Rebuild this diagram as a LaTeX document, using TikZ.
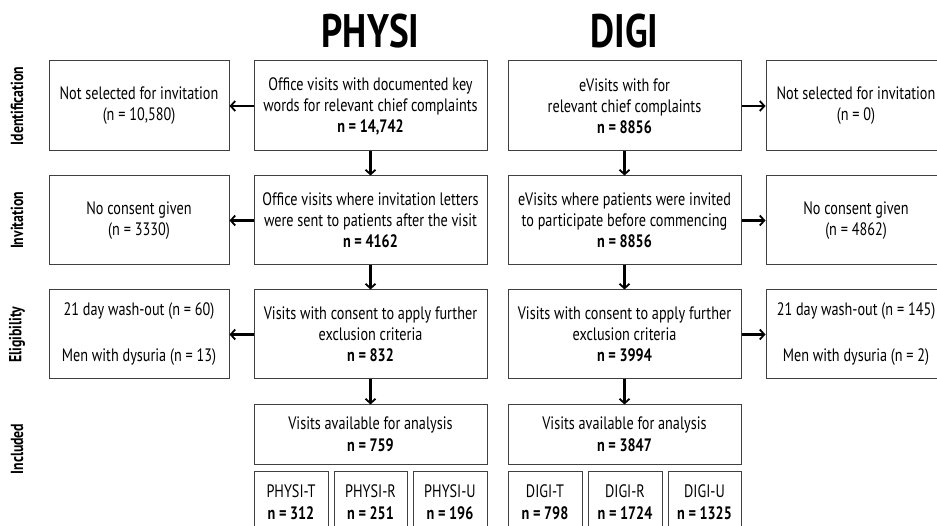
\documentclass[tikz,border=0pt]{standalone}
\usepackage{fontspec}
\setmainfont[FakeStretch=0.79]{PT Sans}
\usetikzlibrary{arrows.meta}
\tikzset{
  box/.style={draw=black!75, line width=1pt, rectangle, inner sep=0pt, align=center,
    font=\fontsize{18}{21}\selectfont},
  conn/.style={line width=2.2pt, -{Straight Barb[length=4.5pt,width=10pt,line width=1.8pt]}},
  ttl/.style={font=\fontsize{47}{47}\selectfont\bfseries},
  side/.style={rotate=90, font=\fontsize{17.5}{17.5}\selectfont\bfseries}
}
\begin{document}
\begin{tikzpicture}[x=1pt,y=-1pt]
\useasboundingbox (0,0) rectangle (937,526);
% titles
\node[ttl] (tp) at (370.5,31) {PHYSI};
\node[ttl] (td) at (624.5,31) {DIGI};
% side labels
\node[side] (s1) at (17,106) {Identification};
\node[side] (s2) at (17,220.5) {Invitation};
\node[side] (s3) at (17,334.5) {Eligibility};
\node[side] (s4) at (17,449) {Included};
% row 1
\node[box, minimum width=180pt, minimum height=90pt] (l1) at (139,106) {Not selected for invitation\\(n = 10,580)};
\node[box, minimum width=233pt, minimum height=90pt] (p1) at (370.5,106) {Office visits with documented key\\words for relevant chief complaints\\\textbf{n = 14,742}};
\node[box, minimum width=233pt, minimum height=90pt] (d1) at (624.5,106) {eVisits with for\\relevant chief complaints\\\textbf{n = 8856}};
\node[box, minimum width=180pt, minimum height=90pt] (r1) at (856,106) {Not selected for invitation\\(n = 0)};
% row 2
\node[box, minimum width=180pt, minimum height=89pt] (l2) at (139,220.5) {No consent given\\(n = 3330)};
\node[box, minimum width=233pt, minimum height=89pt] (p2) at (370.5,220.5) {Office visits where invitation letters\\were sent to patients after the visit\\\textbf{n = 4162}};
\node[box, minimum width=233pt, minimum height=89pt] (d2) at (624.5,220.5) {eVisits where patients were invited\\to participate before commencing\\\textbf{n = 8856}};
\node[box, minimum width=180pt, minimum height=89pt] (r2) at (856,220.5) {No consent given\\(n = 4862)};
% row 3
\node[box, minimum width=180pt, minimum height=89pt] (l3) at (139,334.5) {21 day wash-out (n = 60)\\[25pt]Men with dysuria (n = 13)};
\node[box, minimum width=233pt, minimum height=89pt] (p3) at (370.5,334.5) {Visits with consent to apply further\\exclusion criteria\\\textbf{n = 832}};
\node[box, minimum width=233pt, minimum height=89pt] (d3) at (624.5,334.5) {Visits with consent to apply further\\exclusion criteria\\\textbf{n = 3994}};
\node[box, minimum width=180pt, minimum height=89pt] (r3) at (856,334.5) {21 day wash-out (n = 145)\\[25pt]Men with dysuria (n = 2)};
% row 4
\node[box, minimum width=233pt, minimum height=59pt] (p4) at (370.5,434.5) {Visits available for analysis\\[1pt]\textbf{n = 759}};
\node[box, minimum width=233pt, minimum height=59pt] (d4) at (624.5,434.5) {Visits available for analysis\\[1pt]\textbf{n = 3847}};
% small boxes
\node[box, minimum width=74pt, minimum height=62pt] (pt) at (291,502) {PHYSI-T\\[1pt]\textbf{n = 312}};
\node[box, minimum width=73pt, minimum height=62pt] (pr) at (370.5,502) {PHYSI-R\\[1pt]\textbf{n = 251}};
\node[box, minimum width=74pt, minimum height=62pt] (pu) at (450,502) {PHYSI-U\\[1pt]\textbf{n = 196}};
\node[box, minimum width=74pt, minimum height=62pt] (dt) at (545,502) {DIGI-T\\[1pt]\textbf{n = 798}};
\node[box, minimum width=74pt, minimum height=62pt] (dr) at (625,502) {DIGI-R\\[1pt]\textbf{n = 1724}};
\node[box, minimum width=73pt, minimum height=62pt] (du) at (704.5,502) {DIGI-U\\[1pt]\textbf{n = 1325}};
% connectors
\draw[conn] (p1) -- (p2);
\draw[conn] (p2) -- (p3);
\draw[conn] (p3) -- (p4);
\draw[conn] (d1) -- (d2);
\draw[conn] (d2) -- (d3);
\draw[conn] (d3) -- (d4);
\draw[conn] (p1) -- (l1);
\draw[conn] (p2) -- (l2);
\draw[conn] (p3) -- (l3);
\draw[conn] (d1) -- (r1);
\draw[conn] (d2) -- (r2);
\draw[conn] (d3) -- (r3);
\end{tikzpicture}
\end{document}
